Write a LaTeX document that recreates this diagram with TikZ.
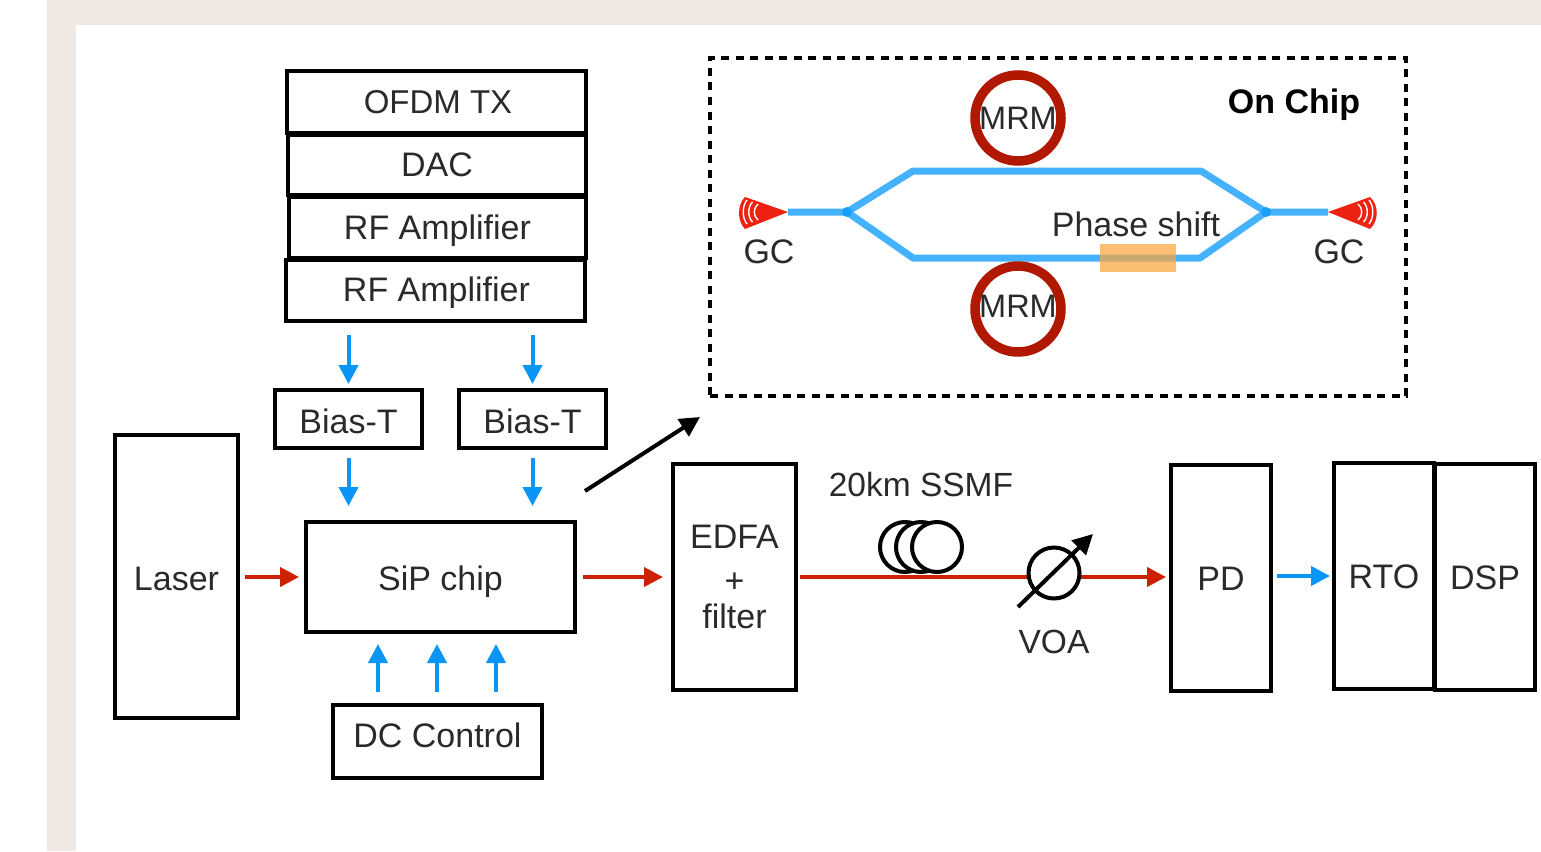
\documentclass[tikz,border=0pt]{standalone}
\usepackage{fontspec}
\setmainfont{Liberation Sans}
\usetikzlibrary{arrows.meta,calc}
\definecolor{beige}{HTML}{F0E9E3}
\definecolor{redline}{HTML}{CC2200}
\definecolor{blueline}{HTML}{0A96F5}
\definecolor{guide}{HTML}{44B2FF}
\definecolor{ring}{HTML}{B01800}
\definecolor{gcred}{HTML}{EE2211}
\definecolor{shifter}{HTML}{FBA63C}
\definecolor{ink}{HTML}{2A2A2A}
\tikzset{
  x=1pt,y=-1pt,
  lbl/.style={font=\fontsize{34}{36}\selectfont,text=ink,inner sep=0pt,align=center},
  boxn/.style={draw=black,line width=4pt,lbl,rectangle,line join=miter,text height=24pt,text depth=0pt},
  redarrow/.style={draw=redline,line width=4pt,-{Triangle[length=19pt,width=19pt]}},
  bluearrow/.style={draw=blueline,line width=4pt,-{Triangle[length=19pt,width=19pt]}},
  blackarrow/.style={draw=black,line width=4pt,-{Triangle[length=20pt,width=20pt]}},
  wg/.style={draw=guide,line width=7pt,line join=bevel},
  mrm/.style={circle,draw=ring,line width=9.5pt,minimum size=86pt,inner sep=0pt,fill=white},
  coil/.style={circle,draw=black,line width=4pt,minimum size=50pt,inner sep=0pt,fill=white},
  gcfan/.style={fill=gcred},
  gcline/.style={draw=white,line width=1.4pt},
}
\newcommand{\bx}[6]{\node[boxn,minimum width=#4-#3-2,minimum height=#6-#5-2] (#1) at ({(#3+#4)/2},{(#5+#6)/2}) {#2};}
\newcommand{\sh}[2]{\raisebox{#1pt}{#2}}
\begin{document}
\begin{tikzpicture}
\useasboundingbox (0,0) rectangle (1541,851);
\fill[beige] (47,0) rectangle (1541,851);
\fill[white] (76,25) rectangle (1541,851);

\node[draw=black,line width=4pt,dash pattern=on 8pt off 6.5pt,minimum width=696,minimum height=338,inner sep=0pt] (chip) at (1058,227) {};
\node[lbl,font=\fontsize{34}{36}\selectfont\bfseries,text=black] (onchip) at (1294,105) {On Chip};

% waveguides
\coordinate (gl) at (788,212);
\coordinate (gr) at (1328,212);
\coordinate (sl) at (847,212);
\coordinate (sr) at (1266,212);
\draw[wg] (gl) -- (sl) -- (913,171) -- (1201,171) -- (sr) -- (gr);
\draw[wg] (sl) -- (913,258) -- (1200,258) -- (sr);
\fill[blueline!70!guide] (sl) circle (5);
\fill[blueline!70!guide] (sr) circle (5);
\node[rectangle,fill=shifter,opacity=.72,minimum width=76,minimum height=28,inner sep=0pt] (ps) at (1138,258) {};
\node[lbl] (psl) at (1136,224) {Phase shift};
\node[mrm] (m1) at (1018,118) {};
\node[mrm] (m2) at (1018,309) {};
\node[lbl,font=\fontsize{32.5}{36}\selectfont] (m1l) at (1018,118) {MRM};
\node[lbl,font=\fontsize{32.5}{36}\selectfont] (m2l) at (1018,306) {MRM};
% grating couplers
\fill[gcfan] (gl) -- (745,197) .. controls (737,205) and (737,221) .. (745,229) -- cycle;
\fill[gcfan] (gr) -- (1370,197) .. controls (1379,205) and (1379,221) .. (1370,229) -- cycle;
\foreach \i/\s in {0/12,1/10,2/8}{
  \draw[gcline] ({747+\i*5.5},{212-\s}) .. controls ({742+\i*5.5},{212-\s/2}) and ({742+\i*5.5},{212+\s/2}) .. ({747+\i*5.5},{212+\s});
  \draw[gcline] ({1369-\i*5.5},{212-\s}) .. controls ({1374-\i*5.5},{212-\s/2}) and ({1374-\i*5.5},{212+\s/2}) .. ({1369-\i*5.5},{212+\s});
}
\node[lbl] (gcl) at (769,252) {GC};
\node[lbl] (gcr) at (1339,252) {GC};

% boxes
\bx{ofdm}{\hspace{3pt}\sh{1}{\fontsize{33}{36}\selectfont OFDM TX}}{286}{587}{70}{134}
\bx{dac}{\sh{1}{DAC}}{287}{587}{134}{196}
\bx{rfa}{RF Amplifier}{288}{587}{196}{259}
\bx{rfb}{\hspace{2pt}\sh{1.5}{RF Amplifier}}{285}{586}{259}{322}
\bx{biasa}{\sh{-2.5}{Bias-T}}{274}{423}{389}{449}
\bx{biasb}{\sh{-2.5}{Bias-T}}{458}{607}{389}{449}
\bx{laser}{\sh{-2}{Laser}}{114}{239}{434}{719}
\bx{sip}{\sh{-1.5}{SiP chip}}{305}{576}{521}{633}
\bx{dc}{\sh{6}{DC Control}}{332}{543}{704}{779}
\node[boxn,text height=,minimum width=123,minimum height=226] (edfa) at (734.5,577) {EDFA\\[8pt]+\\[0pt]filter};
\bx{pd}{PD}{1170}{1272}{464}{692}
\bx{rto}{RTO}{1333}{1435}{462}{690}
\bx{dsp}{DSP}{1434}{1536}{463}{691}

% blue arrows
\draw[bluearrow,shorten <=12pt,shorten >=4pt] (rfb.south -| biasa.north) -- (biasa.north);
\draw[bluearrow,shorten <=12pt,shorten >=4pt] (rfb.south -| biasb.north) -- (biasb.north);
\draw[bluearrow,shorten <=8pt,shorten >=14pt] (biasa.south) -- (biasa.south |- sip.north);
\draw[bluearrow,shorten <=8pt,shorten >=14pt] (biasb.south) -- (biasb.south |- sip.north);
\draw[bluearrow,shorten <=11pt,shorten >=10pt] ($(dc.north)+(-59.5,0)$) -- ($(dc.north |- sip.south)+(-59.5,0)$);
\draw[bluearrow,shorten <=11pt,shorten >=10pt] ($(dc.north)+(-0.5,0)$) -- ($(dc.north |- sip.south)+(-0.5,0)$);
\draw[bluearrow,shorten <=11pt,shorten >=10pt] ($(dc.north)+(58.5,0)$) -- ($(dc.north |- sip.south)+(58.5,0)$);
\draw[bluearrow,shorten <=4pt,shorten >=2pt] (pd.east |- 0,576) -- (rto.west |- 0,576);

% red arrows
\draw[redarrow,shorten <=5pt,shorten >=5pt] (laser.east |- 0,577) -- (sip.west |- 0,577);
\draw[redarrow,shorten <=6pt,shorten >=8pt] (sip.east |- 0,577) -- (edfa.west |- 0,577);

% fibre coil and VOA
\node[coil] (c1) at (905,547) {};
\node[coil] (c2) at (921,547) {};
\node[coil] (c3) at (937,547) {};
\draw[redarrow,shorten <=2pt,shorten >=3pt] (edfa.east |- 0,577) -- (pd.west |- 0,577);
\node[coil,minimum size=51pt] (voa) at (1054,573) {};
\coordinate (voafrom) at (1018,607);
\coordinate (voato) at (1093,534);
\draw[blackarrow] (voafrom) -- (voato);
\node[lbl,font=\fontsize{33.5}{36}\selectfont] (ssmf) at (921,485) {20km SSMF};
\node[lbl,font=\fontsize{33.5}{36}\selectfont] (voal) at (1054,642) {VOA};

% callout arrow
\coordinate (callfrom) at (585,491);
\coordinate (callto) at (700,417);
\draw[blackarrow] (callfrom) -- (callto);
\end{tikzpicture}
\end{document}
